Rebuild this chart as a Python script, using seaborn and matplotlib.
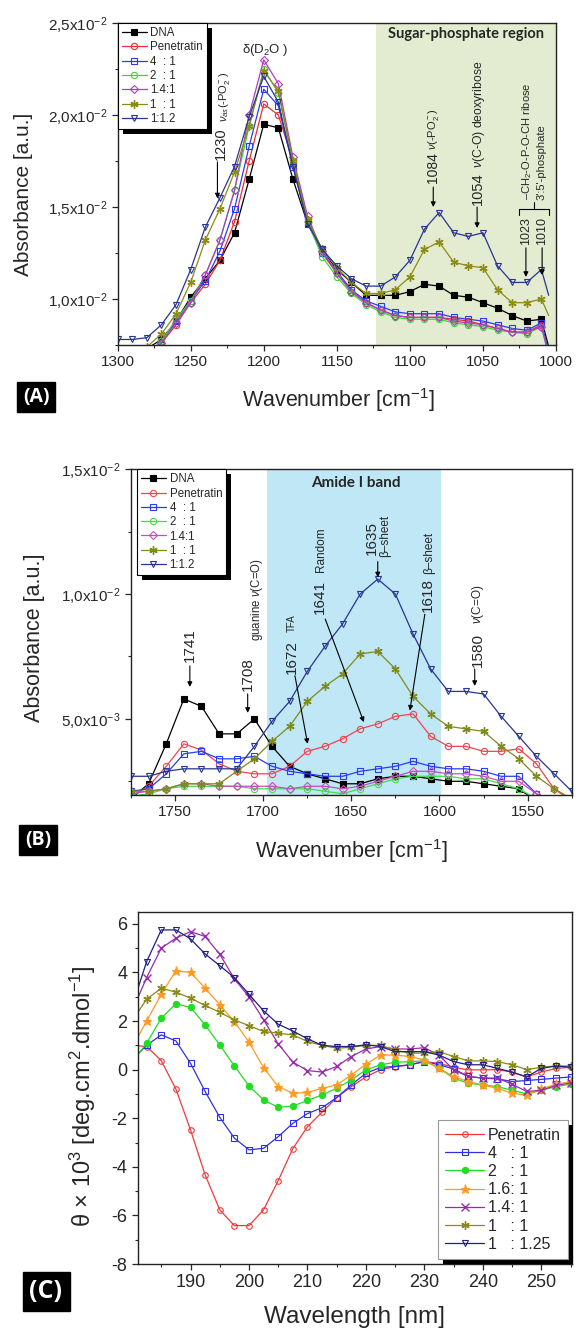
import matplotlib
matplotlib.use("Agg")
import matplotlib.pyplot as plt
import seaborn as sns
from matplotlib.ticker import MultipleLocator
from matplotlib.patches import Rectangle

sns.set_style("ticks")
plt.rcParams["font.family"] = ["Liberation Sans", "DejaVu Sans"]
plt.rcParams["mathtext.fontset"] = "custom"
plt.rcParams["mathtext.rm"] = "Liberation Sans"
plt.rcParams["mathtext.it"] = "Liberation Sans:italic"
plt.rcParams["mathtext.bf"] = "Liberation Sans:bold"
plt.rcParams["axes.unicode_minus"] = False

# ---------------- panel A : sugar-phosphate region ----------------
wn_a = [1300, 1290, 1280, 1270, 1260, 1250, 1240, 1230, 1220, 1210, 1200,
        1190, 1180, 1170, 1160, 1150, 1140, 1130, 1120, 1110, 1100, 1090,
        1080, 1070, 1060, 1050, 1040, 1030, 1020, 1010, 1005]
dna_a = [0.0068, 0.0070, 0.0073, 0.0078, 0.0088, 0.0101, 0.0111, 0.0121, 0.0136, 0.0165, 0.0195,
         0.0193, 0.0165, 0.0141, 0.0127, 0.0116, 0.0109, 0.0102, 0.0102, 0.0102, 0.0104, 0.0108,
         0.0107, 0.0102, 0.0101, 0.0098, 0.0095, 0.0091, 0.0088, 0.0089, 0.0074]
pen_a = [0.0065, 0.0067, 0.0070, 0.0076, 0.0086, 0.0098, 0.0108, 0.0121, 0.0142, 0.0175, 0.0206,
         0.0200, 0.0175, 0.0143, 0.0125, 0.0114, 0.0104, 0.0098, 0.0094, 0.0091, 0.0090, 0.0090,
         0.0090, 0.0089, 0.0088, 0.0086, 0.0084, 0.0082, 0.0082, 0.0086, 0.0070]
r41_a = [0.0064, 0.0066, 0.0070, 0.0077, 0.0088, 0.0099, 0.0110, 0.0126, 0.0149, 0.0183, 0.0214,
         0.0205, 0.0172, 0.0141, 0.0125, 0.0115, 0.0105, 0.0099, 0.0096, 0.0093, 0.0092, 0.0092,
         0.0092, 0.0090, 0.0089, 0.0088, 0.0086, 0.0084, 0.0083, 0.0087, 0.0071]
r21_a = [0.0064, 0.0066, 0.0070, 0.0077, 0.0089, 0.0099, 0.0113, 0.0132, 0.0159, 0.0194, 0.0225,
         0.0212, 0.0175, 0.0142, 0.0123, 0.0112, 0.0103, 0.0097, 0.0093, 0.0090, 0.0089, 0.0089,
         0.0089, 0.0087, 0.0086, 0.0085, 0.0083, 0.0082, 0.0081, 0.0085, 0.0069]
r141_a = [0.0064, 0.0066, 0.0069, 0.0076, 0.0087, 0.0098, 0.0113, 0.0132, 0.0159, 0.0200, 0.0230,
          0.0217, 0.0177, 0.0145, 0.0126, 0.0114, 0.0104, 0.0098, 0.0094, 0.0091, 0.0090, 0.0090,
          0.0090, 0.0088, 0.0087, 0.0086, 0.0084, 0.0082, 0.0082, 0.0085, 0.0070]
r11_a = [0.0068, 0.0070, 0.0074, 0.0081, 0.0092, 0.0109, 0.0132, 0.0149, 0.0169, 0.0194, 0.0224,
         0.0213, 0.0175, 0.0143, 0.0127, 0.0117, 0.0109, 0.0103, 0.0103, 0.0105, 0.0112, 0.0127,
         0.0131, 0.0120, 0.0118, 0.0117, 0.0105, 0.0098, 0.0098, 0.0100, 0.0091]
r112_a = [0.0078, 0.0078, 0.0079, 0.0086, 0.0097, 0.0116, 0.0139, 0.0155, 0.0172, 0.0199, 0.0221,
          0.0207, 0.0172, 0.0141, 0.0127, 0.0118, 0.0111, 0.0107, 0.0107, 0.0112, 0.0121, 0.0138,
          0.0147, 0.0136, 0.0134, 0.0136, 0.0118, 0.0109, 0.0109, 0.0116, 0.0102]

# ---------------- panel B : amide I band ----------------
wn_b = [1775, 1765, 1755, 1745, 1735, 1725, 1715, 1705, 1695, 1685, 1675, 1665, 1655,
        1645, 1635, 1625, 1615, 1605, 1595, 1585, 1575, 1565, 1555, 1545, 1535, 1525]
dna_b = [0.0018, 0.0024, 0.0040, 0.0058, 0.0055, 0.0044, 0.0044, 0.0050, 0.0039, 0.0031, 0.0028, 0.0026, 0.0024,
         0.0024, 0.0026, 0.0027, 0.0027, 0.0026, 0.0025, 0.0025, 0.0024, 0.0023, 0.0022, 0.0017, 0.0015, 0.0014]
pen_b = [0.0019, 0.0023, 0.0031, 0.0040, 0.00375, 0.0032, 0.0029, 0.0028, 0.0028, 0.0031, 0.0037, 0.0039, 0.0042,
         0.0046, 0.0048, 0.0051, 0.0052, 0.0043, 0.0039, 0.0039, 0.0037, 0.0037, 0.0038, 0.0032, 0.0022, 0.0017]
r41_b = [0.0021, 0.0022, 0.0028, 0.0036, 0.0037, 0.0034, 0.0034, 0.0035, 0.0031, 0.0029, 0.0028, 0.0027, 0.0027,
         0.0029, 0.0030, 0.0031, 0.0033, 0.0031, 0.0030, 0.0030, 0.0029, 0.0027, 0.0027, 0.0020, 0.0016, 0.0014]
r21_b = [0.0019, 0.0020, 0.0022, 0.0023, 0.0023, 0.0023, 0.0023, 0.0022, 0.0022, 0.0022, 0.0022, 0.0021, 0.0020,
         0.0022, 0.0024, 0.0026, 0.0027, 0.0027, 0.0027, 0.0026, 0.0026, 0.0024, 0.0022, 0.0018, 0.0015, 0.0013]
r141_b = [0.0020, 0.0021, 0.0022, 0.0024, 0.0024, 0.0023, 0.0023, 0.0023, 0.0023, 0.0022, 0.0023, 0.0023, 0.0022,
          0.0023, 0.0025, 0.0027, 0.0029, 0.0029, 0.0028, 0.0028, 0.0027, 0.0025, 0.0025, 0.0020, 0.0016, 0.0014]
r11_b = [0.0021, 0.0021, 0.0022, 0.0024, 0.0024, 0.0024, 0.0029, 0.0034, 0.0041, 0.0047, 0.0057, 0.0063, 0.0068,
         0.0076, 0.0077, 0.0070, 0.0059, 0.0052, 0.0047, 0.0046, 0.0045, 0.0039, 0.0034, 0.0027, 0.0022, 0.0018]
r112_b = [0.0027, 0.0027, 0.0029, 0.0030, 0.0030, 0.0030, 0.0030, 0.0039, 0.0049, 0.0057, 0.0069, 0.0079, 0.0088,
          0.0100, 0.0106, 0.0100, 0.0084, 0.0070, 0.0061, 0.0061, 0.0060, 0.0051, 0.0043, 0.0035, 0.0028, 0.0021]

# ---------------- panel C : CD spectra ----------------
wl_c = [180, 182.5, 185, 187.5, 190, 192.5, 195, 197.5, 200, 202.5, 205, 207.5, 210, 212.5, 215,
        217.5, 220, 222.5, 225, 227.5, 230, 232.5, 235, 237.5, 240, 242.5, 245, 247.5, 250, 252.5, 255]
pen_c = [1.0, 0.95, 0.37, -0.8, -2.48, -4.33, -5.77, -6.42, -6.42, -5.77, -4.57, -3.25, -2.35, -1.75, -1.15,
         -0.7, -0.3, 0.0, 0.12, 0.2, 0.33, 0.26, 0.1, -0.01, -0.01, 0.0, -0.1, -0.3, -0.1, 0.05, 0.1]
r41_c = [0.4, 1.0, 1.43, 1.18, 0.26, -0.9, -1.96, -2.82, -3.30, -3.24, -2.76, -2.21, -1.81, -1.57, -1.15,
         -0.63, -0.15, 0.09, 0.13, 0.2, 0.33, 0.2, 0.03, -0.28, -0.35, -0.38, -0.49, -0.45, -0.4, -0.35, -0.3]
r21_c = [0.3, 1.09, 2.12, 2.71, 2.56, 1.84, 1.02, 0.15, -0.67, -1.25, -1.55, -1.50, -1.27, -1.04, -0.77,
         -0.42, -0.01, 0.2, 0.3, 0.33, 0.36, 0.06, -0.35, -0.56, -0.63, -0.7, -0.85, -1.0, -0.85, -0.7, -0.6]
r161_c = [0.9, 2.0, 3.1, 4.07, 4.0, 3.35, 2.67, 1.98, 1.13, 0.08, -0.70, -0.97, -0.94, -0.77, -0.63,
          -0.22, 0.22, 0.6, 0.6, 0.54, 0.4, 0.06, -0.29, -0.49, -0.63, -0.77, -0.97, -1.05, -0.8, -0.6, -0.5]
r141_c = [2.4, 3.79, 5.0, 5.41, 5.68, 5.48, 4.75, 3.74, 3.0, 2.05, 1.06, 0.31, -0.04, -0.1, 0.13,
          0.54, 0.85, 0.95, 0.85, 0.85, 0.9, 0.6, -0.01, -0.28, -0.35, -0.35, -0.6, -0.9, -0.85, -0.65, -0.55]
r11_c = [2.0, 2.9, 3.35, 3.19, 2.94, 2.64, 2.36, 2.05, 1.81, 1.57, 1.5, 1.43, 1.16, 1.0, 0.88,
         0.92, 1.0, 1.0, 0.8, 0.68, 0.68, 0.74, 0.54, 0.36, 0.36, 0.33, 0.2, 0.0, 0.1, 0.15, 0.15]
r1125_c = [2.6, 4.45, 5.75, 5.75, 5.38, 4.76, 4.28, 3.79, 3.10, 2.42, 1.87, 1.59, 1.27, 1.0, 0.95,
           0.95, 1.02, 0.95, 0.74, 0.74, 0.74, 0.6, 0.33, 0.2, 0.2, 0.05, -0.1, -0.3, 0.05, 0.15, 0.1]

labels_ab = ["DNA", "Penetratin", "4  : 1", "2  : 1", "1.4:1", "1  : 1", "1:1.2"]
labels_c = ["Penetratin", "4   : 1", "2   : 1", "1.6: 1", "1.4: 1", "1   : 1", "1   : 1.25"]

yticks_a = [0.010, 0.015, 0.020, 0.025]
yticklabels_a = [r"1,0x10$^{-2}$", r"1,5x10$^{-2}$", r"2,0x10$^{-2}$", r"2,5x10$^{-2}$"]
yticks_b = [0.005, 0.010, 0.015]
yticklabels_b = [r"5,0x10$^{-3}$", r"1,0x10$^{-2}$", r"1,5x10$^{-2}$"]

ASTER = (6, 2, 0)
c_dna, c_pen, c_41, c_21 = "black", "#f02c2c", "#2a3cf0", "#3cd63c"
c_141, c_11, c_112 = "#b03cc0", "#8c8c14", "#283592"
c_161 = "#ff9a22"


def draw(ax, x, y, label, color, marker, filled=False, ms=4.5, mew=0.8, markevery=None):
    sns.lineplot(x=x, y=y, ax=ax, estimator=None, sort=False, legend=False,
                 color=color, marker=marker, ms=ms, mec=color,
                 mfc=color if filled else "none", mew=mew, lw=0.9,
                 label=label, markevery=markevery)


def style_axes(ax, size):
    for s in ax.spines.values():
        s.set_linewidth(1.0)
        s.set_color("#222222")
    ax.tick_params(which="major", direction="out", length=4, width=0.9, labelsize=size)
    ax.tick_params(which="minor", direction="out", length=2.5, width=0.8)


def shadow(fig, ax, leg, dx, dy):
    # solid black drop shadow behind a legend, as in the original figure
    fig.canvas.draw()
    bb = leg.get_window_extent()
    rect = Rectangle((bb.x0 + dx, bb.y0 - dy), bb.width, bb.height, transform=None,
                     facecolor="black", edgecolor="none", zorder=4.9, clip_on=False)
    ax.add_artist(rect)


def arrow(ax, start, tip):
    ax.annotate("", xy=tip, xytext=start,
                arrowprops=dict(arrowstyle="-|>", color="black", lw=0.8,
                                mutation_scale=7, shrinkA=0, shrinkB=0))


def vtext(ax, x, y, s, size):
    ax.text(x, y, s, rotation=90, ha="center", va="bottom", fontsize=size)


fig = plt.figure(figsize=(5.76, 13.29), dpi=100)

# ======================= (A) =======================
ax_a = fig.add_axes([0.2042, 0.7404, 0.7611, 0.2423])
ax_a.axvspan(1123, 1000, color="#e3ecd0", lw=0, zorder=0)
ev = slice(0, -1)
draw(ax_a, wn_a, dna_a, labels_ab[0], c_dna, "s", filled=True, markevery=ev)
draw(ax_a, wn_a, pen_a, labels_ab[1], c_pen, "o", markevery=ev)
draw(ax_a, wn_a, r41_a, labels_ab[2], c_41, "s", markevery=ev)
draw(ax_a, wn_a, r21_a, labels_ab[3], c_21, "o", markevery=ev)
draw(ax_a, wn_a, r141_a, labels_ab[4], c_141, "D", ms=4, markevery=ev)
draw(ax_a, wn_a, r11_a, labels_ab[5], c_11, ASTER, ms=6, mew=1.0, markevery=ev)
draw(ax_a, wn_a, r112_a, labels_ab[6], c_112, "v", ms=5, markevery=ev)
ax_a.set_xlim(1300, 1000)
ax_a.set_ylim(0.0075, 0.025)
ax_a.set_xticks([1300, 1250, 1200, 1150, 1100, 1050, 1000])
ax_a.xaxis.set_minor_locator(MultipleLocator(25))
ax_a.set_yticks(yticks_a, labels=yticklabels_a)
ax_a.yaxis.set_minor_locator(MultipleLocator(0.0025))
style_axes(ax_a, 11)
ax_a.set_xlabel(r"Wavenumber [cm$^{-1}$]", fontsize=15.5, va="center")
ax_a.xaxis.set_label_coords(0.503, -0.171)
ax_a.set_ylabel("Absorbance [a.u.]", fontsize=15, va="center")
ax_a.yaxis.set_label_coords(-0.2136, 0.469)

ax_a.text(1061.5, 0.966, "Sugar-phosphate region", transform=ax_a.get_xaxis_transform(),
          ha="center", va="center", fontsize=10.5, fontweight="bold", family="Lato")
ax_a.text(1199, 0.02352, r"δ(D$_2$O )", ha="center", va="center", fontsize=9.5)
vtext(ax_a, 1229.4, 0.01754, "1230", 10.5)
vtext(ax_a, 1227.0, 0.0196, r"$\nu_{as}$(-PO$_2^-$)", 8)
arrow(ax_a, (1231.7, 0.01745), (1231.7, 0.01547))
vtext(ax_a, 1084.0, 0.0163, "1084", 10)
vtext(ax_a, 1083.5, 0.01809, r"$\nu$(-PO$_2^-$)", 8)
arrow(ax_a, (1084, 0.01608), (1084, 0.0150))
vtext(ax_a, 1053.3, 0.0151, "1054", 10.5)
vtext(ax_a, 1053.0, 0.01712, r"$\nu$(C-O) deoxyribose", 8.8)
arrow(ax_a, (1054, 0.0150), (1054, 0.01386))
vtext(ax_a, 1020.6, 0.01295, "1023", 9)
vtext(ax_a, 1009.5, 0.01295, "1010", 9)
arrow(ax_a, (1020.6, 0.01278), (1020.6, 0.0112))
arrow(ax_a, (1009.5, 0.01278), (1009.5, 0.0113))
ax_a.plot([1025.2, 1025.2, 1005.0, 1005.0], [0.01457, 0.01489, 0.01489, 0.01457], color="black", lw=0.8)
ax_a.plot([1015, 1015], [0.01489, 0.01527], color="black", lw=0.8)
vtext(ax_a, 1020.0, 0.01539, r"–CH$_2$-O-P-O-CH ribose", 8)
vtext(ax_a, 1010.0, 0.01539, "3':5'-phosphate", 8)

leg_a = ax_a.legend(loc="upper left", bbox_to_anchor=(0.0, 1.0), borderaxespad=0.0,
                    fontsize=8.3, frameon=True, fancybox=False, framealpha=1, edgecolor="black",
                    labelspacing=0.2, handlelength=2.2, handletextpad=0.3, borderpad=0.35)
leg_a.get_frame().set_linewidth(0.8)

# ======================= (B) =======================
ax_b = fig.add_axes([0.2274, 0.4018, 0.7651, 0.2451])
ax_b.axvspan(1698, 1599, color="#bfe7f6", lw=0, zorder=0)
draw(ax_b, wn_b, dna_b, labels_ab[0], c_dna, "s", filled=True)
draw(ax_b, wn_b, pen_b, labels_ab[1], "#ee4450", "o")
draw(ax_b, wn_b, r41_b, labels_ab[2], c_41, "s")
draw(ax_b, wn_b, r21_b, labels_ab[3], "#44dd44", "o")
draw(ax_b, wn_b, r141_b, labels_ab[4], "#c050c0", "D", ms=4)
draw(ax_b, wn_b, r11_b, labels_ab[5], "#7f8a1c", ASTER, ms=6, mew=1.0)
draw(ax_b, wn_b, r112_b, labels_ab[6], c_112, "v", ms=5)
ax_b.set_xlim(1775, 1525)
ax_b.set_ylim(0.00195, 0.015)
ax_b.set_xticks([1750, 1700, 1650, 1600, 1550])
ax_b.xaxis.set_minor_locator(MultipleLocator(25))
ax_b.set_yticks(yticks_b, labels=yticklabels_b)
ax_b.yaxis.set_minor_locator(MultipleLocator(0.0025))
style_axes(ax_b, 11)
ax_b.set_xlabel(r"Wavenumber [cm$^{-1}$]", fontsize=15.5, va="center")
ax_b.xaxis.set_label_coords(0.501, -0.172)
ax_b.set_ylabel("Absorbance [a.u.]", fontsize=15.5, va="center")
ax_b.yaxis.set_label_coords(-0.218, 0.482)

ax_b.text(1647.4, 0.958, "Amide I band", transform=ax_b.get_xaxis_transform(),
          ha="center", va="center", fontsize=11, fontweight="bold", family="Lato")
vtext(ax_b, 1741.6, 0.00728, "1741", 11)
arrow(ax_b, (1741.6, 0.00712), (1741.6, 0.00628))
vtext(ax_b, 1708.8, 0.00612, "1708", 11)
arrow(ax_b, (1708.8, 0.0060), (1708.8, 0.00524))
vtext(ax_b, 1703.7, 0.00811, r"guanine $\nu$(C=O)", 8.3)
vtext(ax_b, 1683.9, 0.0068, "1672", 11)
vtext(ax_b, 1683.9, 0.00847, "TFA", 7)
arrow(ax_b, (1682, 0.00673), (1674.8, 0.0040))
vtext(ax_b, 1667.9, 0.00919, "1641", 11)
vtext(ax_b, 1667.0, 0.01087, "Random", 8.5)
arrow(ax_b, (1664.8, 0.0090), (1642.9, 0.00487))
vtext(ax_b, 1638.5, 0.01158, "1635", 11)
vtext(ax_b, 1631.0, 0.0115, "β–sheet", 8.5)
arrow(ax_b, (1635, 0.0113), (1635, 0.01067))
vtext(ax_b, 1606.8, 0.00927, "1618", 11)
vtext(ax_b, 1606.0, 0.01079, "β–sheet", 8.5)
arrow(ax_b, (1608.3, 0.00919), (1616.8, 0.00533))
vtext(ax_b, 1578.3, 0.00708, "1580", 11)
vtext(ax_b, 1578.3, 0.00879, r"$\nu$(C=O)", 8.5)
arrow(ax_b, (1580, 0.0070), (1580, 0.00632))

leg_b = ax_b.legend(loc="upper left", bbox_to_anchor=(0.013, 1.0), borderaxespad=0.0,
                    fontsize=8.3, frameon=True, fancybox=False, framealpha=1, edgecolor="black",
                    labelspacing=0.2, handlelength=2.2, handletextpad=0.3, borderpad=0.35)
leg_b.get_frame().set_linewidth(0.8)

# ======================= (C) =======================
ax_c = fig.add_axes([0.2394, 0.0489, 0.7531, 0.2651])
draw(ax_c, wl_c, pen_c, labels_c[0], "#f03a3a", "o", ms=4)
draw(ax_c, wl_c, r41_c, labels_c[1], "#3030e6", "s", ms=4)
draw(ax_c, wl_c, r21_c, labels_c[2], "#22dd22", "o", filled=True, ms=4.5)
draw(ax_c, wl_c, r161_c, labels_c[3], c_161, "*", filled=True, ms=6.5)
draw(ax_c, wl_c, r141_c, labels_c[4], "#9a2aa8", "x", ms=5.5, mew=1.0)
draw(ax_c, wl_c, r11_c, labels_c[5], "#8a8a16", ASTER, ms=6, mew=1.0)
draw(ax_c, wl_c, r1125_c, labels_c[6], "#1e1e88", "v", ms=5)
ax_c.set_xlim(181, 255.2)
ax_c.set_ylim(-8, 6.5)
ax_c.set_xticks([190, 200, 210, 220, 230, 240, 250])
ax_c.xaxis.set_minor_locator(MultipleLocator(5))
ax_c.set_yticks([-8, -6, -4, -2, 0, 2, 4, 6])
ax_c.yaxis.set_minor_locator(MultipleLocator(1))
style_axes(ax_c, 13)
ax_c.set_xlabel("Wavelength [nm]", fontsize=17.5, va="center")
ax_c.xaxis.set_label_coords(0.499, -0.150)
ax_c.set_ylabel(r"θ × 10$^3$ [deg.cm$^2$.dmol$^{-1}$]", fontsize=17, va="center")
ax_c.yaxis.set_label_coords(-0.1266, 0.477)

leg_c = ax_c.legend(loc="lower right", bbox_to_anchor=(0.9915, 0.0142), borderaxespad=0.0,
                    fontsize=11.5, frameon=True, fancybox=False, framealpha=1, edgecolor="#999999",
                    labelspacing=0.2, handlelength=2.4, handletextpad=0.25, borderpad=0.45)
leg_c.get_frame().set_linewidth(0.8)

# panel letters
for (px, py, txt, fs) in [(36, 397, "(A)", 14), (38, 840, "(B)", 14), (46, 1291, "(C)", 18)]:
    fig.text(px / 576, 1 - py / 1329, txt, color="white", fontsize=fs, fontweight="bold",
             ha="center", va="center", family="Open Sans",
             bbox=dict(boxstyle="square,pad=0.28", fc="black", ec="black"))

shadow(fig, ax_a, leg_a, 5, 5)
shadow(fig, ax_b, leg_b, 5, 5)
shadow(fig, ax_c, leg_c, 5, 5)

fig.savefig("out.png", dpi=100)
plt.close(fig)
